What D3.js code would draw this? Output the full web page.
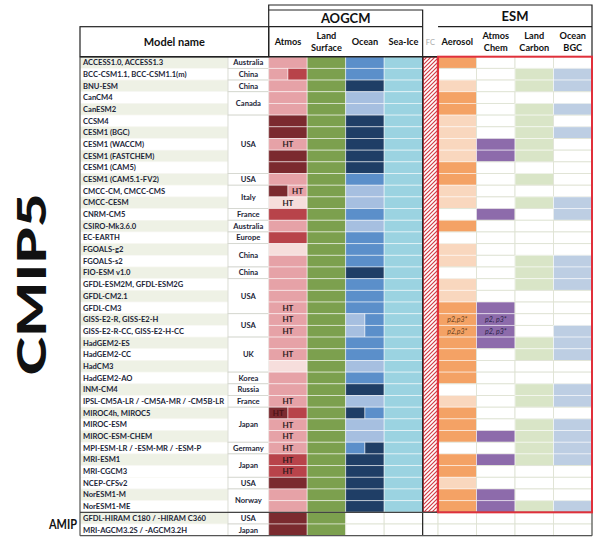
<!DOCTYPE html>
<html><head><meta charset="utf-8">
<script src="https://cdn.jsdelivr.net/npm/d3@7/dist/d3.min.js"></script>
<style>body{margin:0;background:#fff}svg{display:block}text{font-family:Lato,"Open Sans",sans-serif}</style>
</head><body><svg id="c" width="607" height="543"></svg>
<script>
// ---------- DATA ----------
const models = ["ACCESS1.0, ACCESS1.3","BCC-CSM1.1, BCC-CSM1.1(m)","BNU-ESM","CanCM4","CanESM2","CCSM4","CESM1 (BGC)","CESM1 (WACCM)","CESM1 (FASTCHEM)","CESM1 (CAM5)","CESM1 (CAM5.1-FV2)","CMCC-CM, CMCC-CMS","CMCC-CESM","CNRM-CM5","CSIRO-Mk3.6.0","EC-EARTH","FGOALS-g2","FGOALS-s2","FIO-ESM v1.0","GFDL-ESM2M, GFDL-ESM2G","GFDL-CM2.1","GFDL-CM3","GISS-E2-R, GISS-E2-H","GISS-E2-R-CC, GISS-E2-H-CC","HadGEM2-ES","HadGEM2-CC","HadCM3","HadGEM2-AO","INM-CM4","IPSL-CM5A-LR / -CM5A-MR / -CM5B-LR","MIROC4h, MIROC5","MIROC-ESM","MIROC-ESM-CHEM","MPI-ESM-LR / -ESM-MR / -ESM-P","MRI-ESM1","MRI-CGCM3","NCEP-CFSv2","NorESM1-M","NorESM1-ME","GFDL-HIRAM C180 / -HIRAM C360","MRI-AGCM3.2S / -AGCM3.2H"];
const cmip5Count = 39;
const projectLabels = ["CMIP5","AMIP"];
const countries = [["Australia",1],["China",1],["China",1],["Canada",2],["USA",5],["USA",1],["Italy",2],["France",1],["Australia",1],["Europe",1],["China",2],["China",1],["USA",3],["USA",2],["UK",3],["Korea",1],["Russia",1],["France",1],["Japan",3],["Germany",1],["Japan",2],["USA",1],["Norway",2],["USA",1],["Japan",1]];
const aogcmHeaders = ["Atmos","Land|Surface","Ocean","Sea-Ice"];
const esmHeaders = ["Aerosol","Atmos|Chem","Land|Carbon","Ocean|BGC"];
// Atmos: L light, D dark, M medium, V very light; "a|b" = split cell
const atmos = ["L","L|M","L","L","L","D","D","L","D","D","L","D|L","V","M","L","M","V","L","L","L","L","L","L","L","L","L","V","L","L","L","D|M","L","L","L","M","M","D","L","L","D","D"];
const atmosLabel = ["","","","","","","","HT","","","","HT","HT","","","","","","","","","HT","HT","HT","","HT","","","","HT","HT","HT","HT","HT","HT","HT","","","","",""];
const landSurface = d3.range(41).map(()=>"G");
// Ocean: M medium, N navy, L light, W none
const ocean = ["M","M","N","L","L","N","N","N","N","N","M","L","L","M","L","M","M","M","N","M","M","M","L|M","L|M","M","M","L","M","N","L","N|M","L","L","M|N","N","N","N","N","N","W","W"];
const seaIce = d3.range(41).map(i=> i<cmip5Count ? "C" : "W");
// Aerosol: O full, P partial, W none
const aerosol = ["O","W","P","O","O","P","P","P","P","O","O","P","P","W","O","W","P","P","W","P","P","O","O","O","O","O","O","O","W","P","O","O","O","W","O","O","P","O","O","W","W"];
const atmosChem = [0,0,0,0,0,0,0,1,1,0,0,0,0,1,0,0,0,0,0,0,0,1,1,1,1,0,0,0,0,0,0,0,1,0,1,0,0,1,1,0,0];
const landCarbon = [0,1,1,0,1,1,1,1,1,0,1,0,1,0,0,0,0,1,1,1,0,0,0,0,1,1,0,0,1,1,0,1,1,1,1,0,0,0,1,0,0];
const oceanBGC = [0,1,1,0,1,0,1,0,0,0,0,0,1,1,0,0,0,1,1,1,0,0,0,1,1,1,0,0,1,1,0,1,1,1,1,0,0,0,1,0,0];
const aerosolNote = {22:"p2,p3*",23:"p2,p3*"};
const chemNote = {22:"p2, p3*",23:"p2, p3*"};
const labelSide = {11:"right",30:"left"};

// ---------- STYLES ----------
const atmosColor = {L:"#e6a2a7",D:"#7b2a2f",M:"#b8434a",V:"#f6dedc"};
const oceanColor = {M:"#5b8fca",N:"#1f3e66",L:"#a6bfe0",W:"#ffffff"};
const aerosolColor = {O:"#f4a265",P:"#f9d7be",W:"#ffffff"};
const landColor = "#7ca04e", seaIceColor = "#9bd3e1", chemColor = "#8d6bab", lcColor = "#d9e5c7", bgcColor = "#bdcee3";

const svg = d3.select("#c");
const defs = svg.append("defs");
const pat = defs.append("pattern").attr("id","hatch").attr("patternUnits","userSpaceOnUse").attr("width",4).attr("height",4);
pat.append("rect").attr("width",4).attr("height",4).attr("fill","#fff");
pat.append("path").attr("d","M-1,1 l2,-2 M0,4 l4,-4 M3,5 l2,-2").attr("stroke","#d23a44").attr("stroke-width",1.2);

const nRows = models.length;
const y = d3.scaleBand().domain(d3.range(nRows)).range([56.7,535.7]);
const rh = y.bandwidth();
const colUnits = [1,1,1,1,0.4,1,1,1,1];
const colStart = colUnits.map((u,i)=>d3.sum(colUnits.slice(0,i)));
const x = d3.scaleLinear().domain([0,d3.sum(colUnits)]).range([268.7,592]);
const cx0 = c=>x(colStart[c]), cx1 = c=>x(colStart[c]+colUnits[c]);

const nameX0 = 80, countryX0 = 228;

// name column
const gN = svg.append("g");
models.forEach((m,i)=>{
  const light = i<36 ? i%2===0 : i%2===1;
  gN.append("rect").attr("x",nameX0).attr("y",y(i)).attr("width",countryX0-nameX0).attr("height",rh)
    .attr("fill",light?"#eef1e5":"#ffffff").attr("stroke","#f7f7f2").attr("stroke-width",0.6);
  gN.append("text").attr("x",nameX0+3).attr("y",y(i)+rh/2).attr("dy","0.35em")
    .attr("font-size",7.6).attr("font-weight","bold").attr("fill","#1c2538").text(m);
});
// country column
let r0 = 0;
countries.forEach(([c,n])=>{
  gN.append("rect").attr("x",countryX0).attr("y",y(r0)).attr("width",x(0)-countryX0).attr("height",rh*n)
    .attr("fill","#fff").attr("stroke","#d2d4cc").attr("stroke-width",0.8);
  gN.append("text").attr("x",(countryX0+x(0))/2).attr("y",y(r0)+rh*n/2).attr("dy","0.35em").attr("text-anchor","middle")
    .attr("font-size",7.6).attr("font-weight","bold").attr("fill","#1c2538").text(c);
  r0 += n;
});

// cells
const cells = [];
function addCell(c,i,code,cmap){
  const parts = code.split("|");
  const w = (cx1(c)-cx0(c))/parts.length;
  parts.forEach((p,k)=>cells.push({x:cx0(c)+k*w,w:w,i:i,fill:cmap(p)}));
}
models.forEach((m,i)=>{
  addCell(0,i,atmos[i],p=>atmosColor[p]);
  addCell(1,i,landSurface[i],()=>landColor);
  addCell(2,i,ocean[i],p=>oceanColor[p]);
  addCell(3,i,seaIce[i],p=>p==="C"?seaIceColor:"#fff");
  if(i>=cmip5Count) addCell(4,i,"W",()=>"#fff");
  addCell(5,i,aerosol[i],p=>aerosolColor[p]);
  addCell(6,i,"x",()=>atmosChem[i]?chemColor:"#fff");
  addCell(7,i,"x",()=>landCarbon[i]?lcColor:"#fff");
  addCell(8,i,"x",()=>oceanBGC[i]?bgcColor:"#fff");
});
svg.append("g").selectAll("rect").data(cells).join("rect")
  .attr("x",d=>d.x).attr("y",d=>y(d.i)).attr("width",d=>d.w).attr("height",rh)
  .attr("fill",d=>d.fill)
  .attr("stroke",d=>d.fill==="#fff"||d.fill==="#ffffff"?"#dfe3d4":"rgba(255,255,255,0.55)")
  .attr("stroke-width",0.9);

// FC hatched block
svg.append("rect").attr("x",cx0(4)+0.8).attr("y",y(0)+0.5).attr("width",cx1(4)-cx0(4)-1.6).attr("height",y(cmip5Count-1)+rh-y(0)-1)
  .attr("fill","url(#hatch)").attr("stroke","#c8303a").attr("stroke-width",0.9);

// cell labels
const gL = svg.append("g").attr("font-weight","bold");
atmosLabel.forEach((t,i)=>{
  if(!t) return;
  const side = labelSide[i];
  const xm = side==="right" ? (cx0(0)+cx1(0))/2 + (cx1(0)-cx0(0))/4 : side==="left" ? cx0(0)+(cx1(0)-cx0(0))/4 : (cx0(0)+cx1(0))/2;
  gL.append("text").attr("x",xm).attr("y",y(+i)+rh/2).attr("dy","0.35em").attr("text-anchor","middle")
    .attr("font-size",8).attr("fill",side==="left"?"#4a1215":"#2a1a1c").text(t);
});
Object.entries(aerosolNote).forEach(([i,t])=>{
  svg.append("text").attr("x",(cx0(5)+cx1(5))/2).attr("y",y(+i)+rh/2).attr("dy","0.35em").attr("text-anchor","middle")
    .attr("font-size",7).attr("font-style","italic").attr("fill","#6a4420").text(t);
});
Object.entries(chemNote).forEach(([i,t])=>{
  svg.append("text").attr("x",(cx0(6)+cx1(6))/2).attr("y",y(+i)+rh/2).attr("dy","0.35em").attr("text-anchor","middle")
    .attr("font-size",7).attr("font-style","italic").attr("fill","#2a2448").text(t);
});

// ---------- frame lines ----------
const gF = svg.append("g").attr("fill","none");
const line = (pts,col,w)=>gF.append("path").attr("d",d3.line()(pts)).attr("stroke",col).attr("stroke-width",w);
const yTop = y(0), yA = y(cmip5Count), yB = y(nRows-1)+rh;
line([[x(0),yTop],[x(0),5],[592,5],[592,yTop]],"#222",1.2);
line([[x(0),10],[cx1(3),10],[cx1(3),yB]],"#222",1.2);
line([[x(0),26.7],[cx1(3),26.7]],"#222",1.2);
line([[cx0(5),26.7],[592,26.7]],"#222",1.2);
gF.append("rect").attr("x",nameX0).attr("y",26.7).attr("width",x(0)-nameX0).attr("height",yTop-26.7).attr("stroke","#222").attr("stroke-width",1.2);
line([[nameX0,yTop],[cx0(5),yTop]],"#222",1.4);
line([[nameX0,yTop],[nameX0,yB]],"#444",1.1);
line([[nameX0,yA],[592,yA]],"#444",1.2);
line([[nameX0,yB],[592,yB]],"#555",1.2);
line([[592,yA],[592,yB]],"#555",1.2);
gF.append("rect").attr("x",cx0(5)).attr("y",yTop).attr("width",592-cx0(5)).attr("height",yA-yTop)
  .attr("stroke","#e0303b").attr("stroke-width",2);

// ---------- header text ----------
const gH = svg.append("g").attr("font-weight","bold").attr("fill","#111").attr("text-anchor","middle");
gH.append("text").attr("x",(x(0)+cx1(3))/2).attr("y",18.5).attr("dy","0.35em").attr("font-size",13).text("AOGCM");
gH.append("text").attr("x",(cx0(5)+592)/2).attr("y",16).attr("dy","0.35em").attr("font-size",13).text("ESM");
gH.append("text").attr("x",(nameX0+x(0))/2).attr("y",42).attr("dy","0.35em").attr("font-size",11).text("Model name");
const hdr = (c,t)=>{
  const parts = t.split("|"), xm = (cx0(c)+cx1(c))/2;
  if(parts.length===1) gH.append("text").attr("x",xm).attr("y",42).attr("dy","0.35em").attr("font-size",9.2).text(parts[0]);
  else parts.forEach((p,k)=>gH.append("text").attr("x",xm).attr("y",35.5+k*12.3).attr("dy","0.35em").attr("font-size",9.2).text(p));
};
aogcmHeaders.forEach((t,k)=>hdr(k,t));
esmHeaders.forEach((t,k)=>hdr(5+k,t));
gH.append("text").attr("x",(cx0(4)+cx1(4))/2).attr("y",42).attr("dy","0.35em").attr("font-size",7.5).attr("font-weight","normal").attr("fill","#aaa").text("FC");

// project labels
svg.append("text").attr("transform",`translate(32,${(yTop+yA)/2}) rotate(-90)`).attr("text-anchor","middle").attr("dy","0.35em")
  .attr("font-size",39).attr("font-weight","900").attr("fill","#111").attr("textLength",182).attr("lengthAdjust","spacingAndGlyphs").text(projectLabels[0]);
svg.append("text").attr("x",77).attr("y",(yA+yB)/2).attr("dy","0.35em").attr("text-anchor","end")
  .attr("font-size",14).attr("font-weight","bold").attr("fill","#111").attr("textLength",28).attr("lengthAdjust","spacingAndGlyphs").text(projectLabels[1]);
</script></body></html>
